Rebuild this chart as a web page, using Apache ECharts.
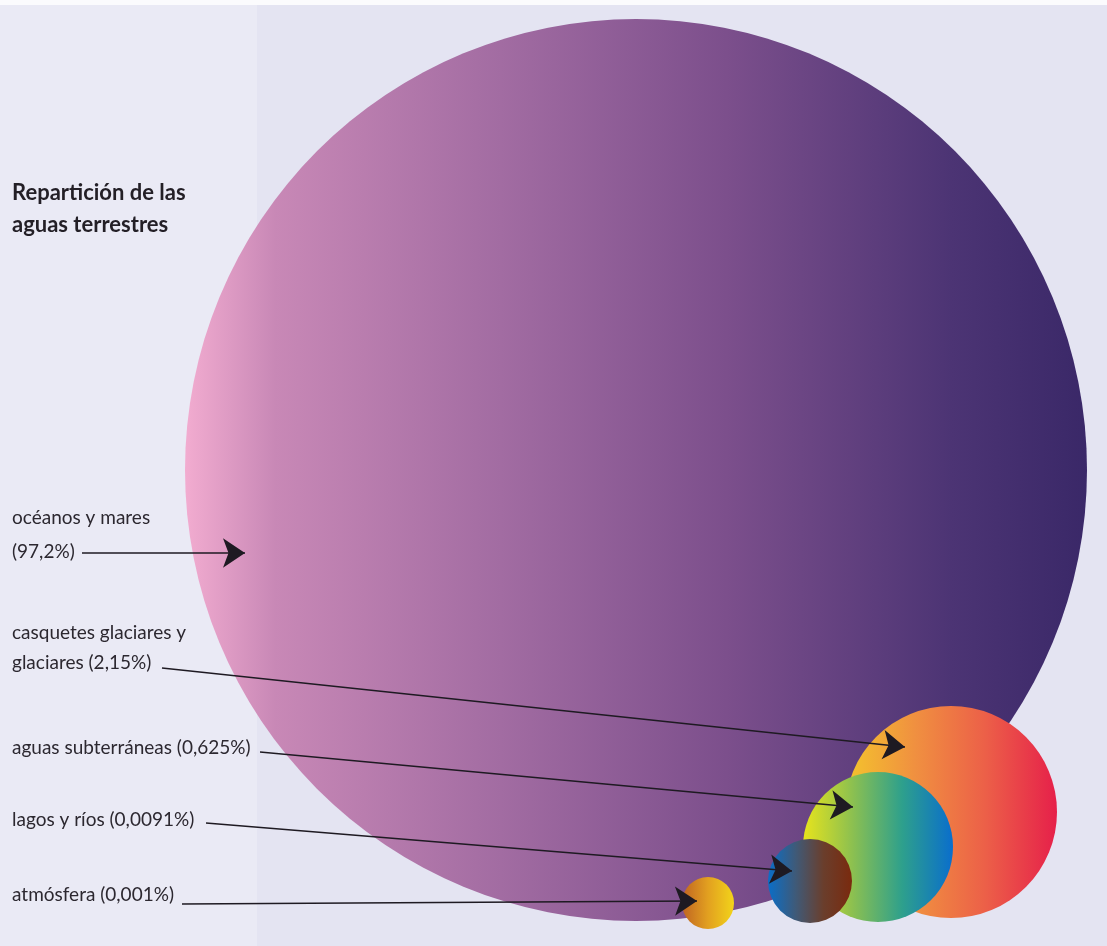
<!DOCTYPE html>
<html>
<head>
<meta charset="utf-8">
<script src="https://cdn.jsdelivr.net/npm/echarts@6/dist/echarts.min.js"></script>
<style>
html,body{margin:0;padding:0;background:#e4e4f2;}
#chart{width:1107px;height:946px;}
</style>
</head>
<body>
<div id="chart"></div>
<script>
// ---- data ----
const titleLines = ['Repartición de las', 'aguas terrestres'];
const categories = ['océanos y mares', 'casquetes glaciares y glaciares', 'aguas subterráneas', 'lagos y ríos', 'atmósfera'];
const percentages = [97.2, 2.15, 0.625, 0.0091, 0.001];

// ---- layout (bubble centres / radii in plot units, label anchors) ----
const bubbleX = [636, 951, 878, 810, 708];
const bubbleY = [470, 812, 847, 881, 903];
const bubbleR = [451, 106, 75, 42, 26];
const arrowFrom = [[82, 553], [162, 668], [260, 752], [206, 823], [182, 904]];
const arrowTo = [[245, 553], [905, 747], [853, 807], [792, 871], [697, 901]];
const gradients = [
  [[0, '#f2acd0'], [0.1, '#c888b6'], [0.35, '#a26ca2'], [0.6, '#7c4f8c'], [0.85, '#4c3474'], [1, '#3a2868']],
  [[0, '#f4c52c'], [0.33, '#f09040'], [0.66, '#ec6048'], [1, '#e6204a']],
  [[0, '#e8e41c'], [0.33, '#8cc050'], [0.66, '#2ea08c'], [1, '#0a6ecc']],
  [[0, '#0a6ec8'], [0.33, '#3f5a78'], [0.66, '#6a3e2c'], [1, '#7a2a0e']],
  [[0, '#bf6422'], [0.5, '#e2a020'], [1, '#f2d41a']]
];

function fmt(v) { return String(v).replace('.', ','); }

const bubbleData = categories.map((c, i) => [bubbleX[i], bubbleY[i], bubbleR[i], percentages[i]]);
const lineData = categories.map((c, i) => ({ coords: [arrowFrom[i], arrowTo[i]] }));

const chart = echarts.init(document.getElementById('chart'));
const fontFam = 'Lato, "Open Sans", sans-serif';
const labelStyle = { fill: '#2c2830', font: '19px ' + fontFam };

const textEls = [
  { type: 'text', left: 12, top: 177, style: { text: titleLines.join('\n'), fill: '#231f26', font: 'bold 22px ' + fontFam, lineHeight: 32 } },
  { type: 'text', left: 12, top: 501, style: Object.assign({ text: categories[0] + '\n(' + fmt(percentages[0]) + '%)', lineHeight: 34 }, labelStyle) },
  { type: 'text', left: 12, top: 618, style: Object.assign({ text: 'casquetes glaciares y\nglaciares (' + fmt(percentages[1]) + '%)', lineHeight: 30 }, labelStyle) },
  { type: 'text', left: 12, top: 737, style: Object.assign({ text: categories[2] + ' (' + fmt(percentages[2]) + '%)', lineHeight: 22 }, labelStyle) },
  { type: 'text', left: 12, top: 809, style: Object.assign({ text: categories[3] + ' (' + fmt(percentages[3]) + '%)', lineHeight: 22 }, labelStyle) },
  { type: 'text', left: 12, top: 884, style: Object.assign({ text: categories[4] + ' (' + fmt(percentages[4]) + '%)', lineHeight: 22 }, labelStyle) }
];

chart.setOption({
  backgroundColor: '#e4e4f2',
  animation: false,
  graphic: [
    { type: 'rect', z: -10, shape: { x: 0, y: 0, width: 257, height: 946 }, style: { fill: '#eaeaf5' } },
    { type: 'rect', z: -9, shape: { x: 0, y: 0, width: 1107, height: 5 }, style: { fill: '#fbfbfd' } }
  ].concat(textEls),
  grid: { left: 0, right: 0, top: 0, bottom: 0 },
  xAxis: { type: 'value', min: 0, max: 1107, show: false },
  yAxis: { type: 'value', min: 0, max: 946, inverse: true, show: false },
  series: [
    {
      type: 'custom',
      data: bubbleData,
      z: 2,
      renderItem: function (params, api) {
        const i = params.dataIndex;
        const c = api.coord([api.value(0), api.value(1)]);
        const r = api.size([api.value(2), 0])[0];
        const stops = gradients[i].map(s => ({ offset: s[0], color: s[1] }));
        return {
          type: 'circle',
          shape: { cx: c[0], cy: c[1], r: r },
          style: { fill: new echarts.graphic.LinearGradient(0, 0, 1, 0, stops) }
        };
      }
    },
    {
      type: 'lines',
      coordinateSystem: 'cartesian2d',
      z: 5,
      data: lineData,
      symbol: ['none', 'arrow'],
      symbolSize: [12, 22],
      lineStyle: { color: '#1e1a22', width: 1.5, opacity: 1 },
      silent: true
    }
  ]
});
</script>
</body>
</html>
